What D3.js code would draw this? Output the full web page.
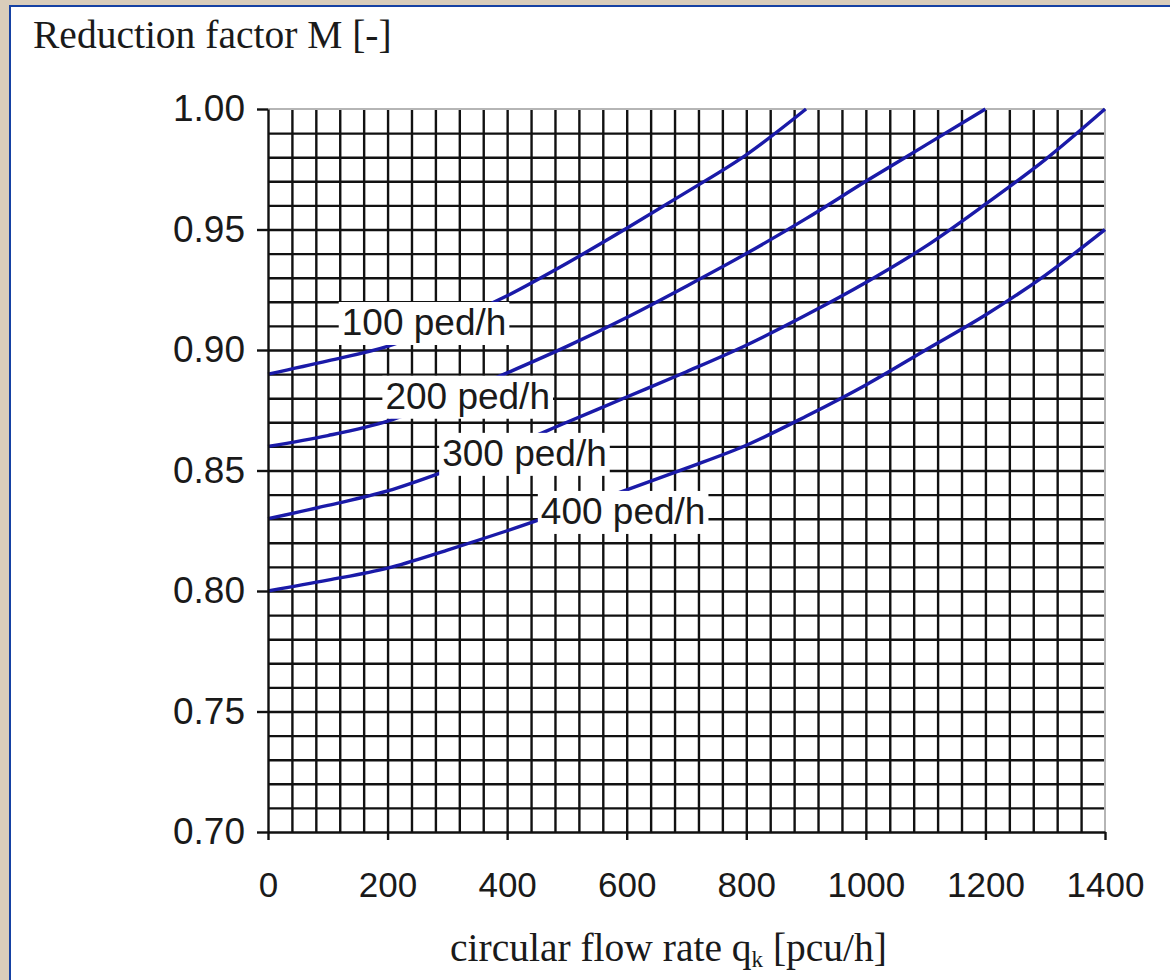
<!DOCTYPE html>
<html>
<head>
<meta charset="utf-8">
<script src="https://cdn.jsdelivr.net/npm/d3@7"></script>
<style>
  body { margin: 0; background: #fff; }
  svg { display: block; }
</style>
</head>
<body>
<script>
// values (reduction factor M per circular flow rate)
const flowRate = [0, 100, 200, 300, 400, 500, 600, 700, 800, 900, 1000, 1100, 1200, 1300, 1400];
const m100 = [0.890, 0.8955, 0.9015, 0.911, 0.9225, 0.936, 0.9505, 0.9655, 0.981, 1.000];
const m200 = [0.860, 0.8645, 0.8705, 0.880, 0.8905, 0.9015, 0.9135, 0.9265, 0.940, 0.9545, 0.970, 0.985, 1.000];
const m300 = [0.830, 0.8355, 0.8415, 0.850, 0.8595, 0.870, 0.8805, 0.891, 0.902, 0.9145, 0.928, 0.943, 0.9605, 0.979, 1.000];
const m400 = [0.800, 0.8045, 0.8095, 0.817, 0.825, 0.8335, 0.842, 0.851, 0.8605, 0.8725, 0.8855, 0.900, 0.9145, 0.931, 0.950];
const seriesNames = ['100 ped/h', '200 ped/h', '300 ped/h', '400 ped/h'];
const xTicks = [0, 200, 400, 600, 800, 1000, 1200, 1400];
const yTicks = [0.70, 0.75, 0.80, 0.85, 0.90, 0.95, 1.00];

// where the curve labels sit (data coords of text centre)
const labelSpots = [[261, 0.9116], [334, 0.881], [429, 0.8573], [594, 0.8332]];

const DIM = {
    width: 1170,
    height: 980,
    left: 268,
    top: 109,
    innerWidth: 837,
    innerHeight: 723
};

const svg = d3.select('body').append('svg')
    .attr('width', DIM.width)
    .attr('height', DIM.height);

// page frame: beige strip + blue rule on top and left
svg.append('rect').attr('width', DIM.width).attr('height', DIM.height).attr('fill', '#fff');
svg.append('rect').attr('x', 0).attr('y', 0).attr('width', DIM.width).attr('height', 5).attr('fill', '#d9cdbb');
svg.append('rect').attr('x', 0).attr('y', 0).attr('width', 9).attr('height', DIM.height).attr('fill', '#d9cdbb');
svg.append('rect').attr('x', 9).attr('y', 5).attr('width', DIM.width - 9).attr('height', 2).attr('fill', '#1541a3');
svg.append('rect').attr('x', 9).attr('y', 5).attr('width', 2).attr('height', DIM.height - 5).attr('fill', '#1541a3');

const x = d3.scaleLinear().domain([0, 1400]).range([0, DIM.innerWidth]);
const y = d3.scaleLinear().domain([0.70, 1.00]).range([DIM.innerHeight, 0]);

const canvas = svg.append('g')
    .attr('transform', `translate(${DIM.left},${DIM.top})`);

// fine grid: every 40 pcu/h and every 0.01
const gridX = d3.range(40, 1400, 40);
const gridY = d3.range(71, 100).map(d => d / 100);

const vGrid = canvas.append('g')
    .attr('transform', `translate(0,${DIM.innerHeight})`)
    .call(d3.axisBottom(x).tickValues(gridX).tickSize(-DIM.innerHeight).tickFormat(''));
const hGrid = canvas.append('g')
    .call(d3.axisLeft(y).tickValues(gridY).tickSize(-DIM.innerWidth).tickFormat(''));
[vGrid, hGrid].forEach(g => {
    g.select('.domain').remove();
    g.selectAll('line')
        .attr('stroke', '#111')
        .attr('stroke-width', 2.4);
});

// top and right edges are lighter in the original
canvas.append('line')
    .attr('x1', 0).attr('x2', DIM.innerWidth).attr('y1', 0).attr('y2', 0)
    .attr('stroke', '#b5b5b5').attr('stroke-width', 2);
canvas.append('line')
    .attr('x1', DIM.innerWidth).attr('x2', DIM.innerWidth).attr('y1', 0).attr('y2', DIM.innerHeight)
    .attr('stroke', '#b5b5b5').attr('stroke-width', 2);

// curves
const series = [m100, m200, m300, m400].map((vals, i) => ({
    name: seriesNames[i],
    values: vals.map((v, j) => ({ q: flowRate[j], m: v }))
}));

const line = d3.line()
    .x(d => x(d.q))
    .y(d => y(d.m))
    .curve(d3.curveMonotoneX);

canvas.selectAll('.curve')
    .data(series)
    .join('path')
    .attr('class', 'curve')
    .attr('d', d => line(d.values))
    .attr('fill', 'none')
    .attr('stroke', '#1a1aa8')
    .attr('stroke-width', 3.4);

// curve labels on white boxes
const labels = canvas.selectAll('.lbl')
    .data(series)
    .join('g')
    .attr('class', 'lbl');

labels.append('rect').attr('fill', '#fff');
labels.append('text')
    .attr('x', (d, i) => x(labelSpots[i][0]))
    .attr('y', (d, i) => y(labelSpots[i][1]))
    .attr('dy', '0.35em')
    .attr('text-anchor', 'middle')
    .style('font-family', '"Liberation Sans", Arial, sans-serif')
    .style('font-size', '37px')
    .attr('fill', '#1a1a1a')
    .text(d => d.name);

labels.each(function () {
    const g = d3.select(this);
    const b = g.select('text').node().getBBox();
    g.select('rect')
        .attr('x', b.x - 3)
        .attr('y', b.y)
        .attr('width', b.width + 6)
        .attr('height', b.height + 2);
});

// axes
const tickFont = g => g.selectAll('text')
    .style('font-family', '"Liberation Sans", Arial, sans-serif')
    .style('font-size', '35px')
    .attr('fill', '#1a1a1a');

const xAxisGroup = canvas.append('g')
    .attr('transform', `translate(0,${DIM.innerHeight})`)
    .call(d3.axisBottom(x).tickValues(xTicks).tickSize(8).tickPadding(32).tickSizeOuter(0)
        .tickFormat(d3.format('d')))
    .call(tickFont);

const yAxisGroup = canvas.append('g')
    .call(d3.axisLeft(y).tickValues(yTicks).tickSize(11).tickPadding(12).tickSizeOuter(0)
        .tickFormat(d3.format('.2f')))
    .call(tickFont);
yAxisGroup.selectAll('text').style('font-size', '37px');

[xAxisGroup, yAxisGroup].forEach(g => {
    g.select('.domain').attr('stroke', '#111').attr('stroke-width', 2.4);
    g.selectAll('.tick line').attr('stroke', '#111').attr('stroke-width', 2.4);
});

// axis titles
svg.append('text')
    .attr('x', 33)
    .attr('y', 48)
    .style('font-family', '"Liberation Serif", "Times New Roman", serif')
    .style('font-size', '39.5px')
    .attr('fill', '#1a1a1a')
    .text('Reduction factor M [-]');

const xLabel = svg.append('text')
    .attr('x', DIM.left + DIM.innerWidth / 2 - 18)
    .attr('y', 961)
    .attr('text-anchor', 'middle')
    .style('font-family', '"Liberation Serif", "Times New Roman", serif')
    .style('font-size', '39.5px')
    .attr('fill', '#1a1a1a');
xLabel.append('tspan').text('circular flow rate q');
xLabel.append('tspan').attr('dy', 6).style('font-size', '23px').text('k');
xLabel.append('tspan').attr('dy', -6).text(' [pcu/h]');
</script>
</body>
</html>
